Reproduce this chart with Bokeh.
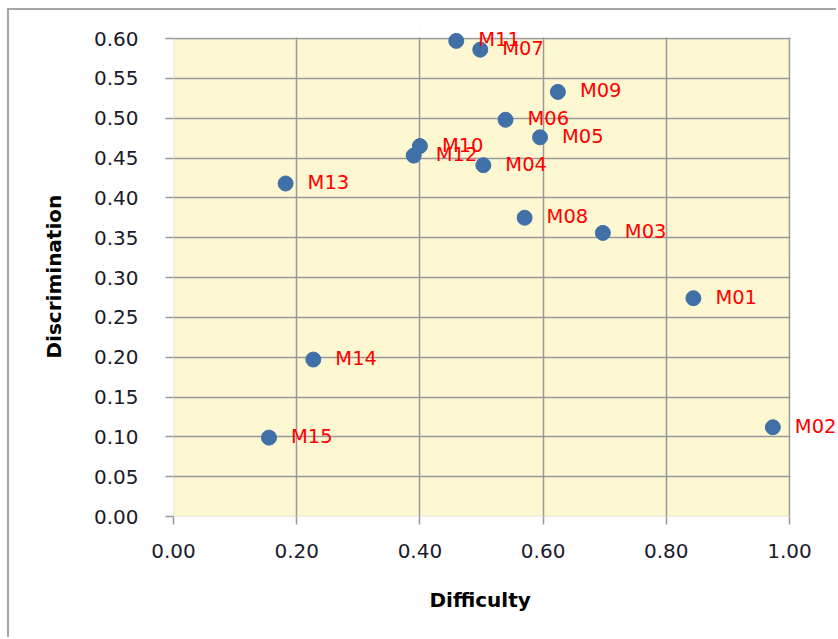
from bokeh.plotting import figure
from bokeh.models import (ColumnDataSource, NumeralTickFormatter, FixedTicker,
                          Range1d, LabelSet, BoxAnnotation, Title)
from bokeh.core.properties import value
from bokeh.embed import file_html
from bokeh.resources import INLINE

items = ["M01", "M02", "M03", "M04", "M05", "M06", "M07", "M08",
         "M09", "M10", "M11", "M12", "M13", "M14", "M15"]
difficulty = [0.844, 0.973, 0.697, 0.503, 0.595, 0.539, 0.498, 0.570,
              0.624, 0.400, 0.459, 0.390, 0.182, 0.227, 0.155]
discrimination = [0.274, 0.112, 0.356, 0.441, 0.476, 0.498, 0.586, 0.375,
                  0.533, 0.465, 0.597, 0.453, 0.418, 0.197, 0.099]
x_ticks = [0.0, 0.2, 0.4, 0.6, 0.8, 1.0]
y_ticks = [0.0, 0.05, 0.10, 0.15, 0.20, 0.25, 0.30, 0.35, 0.40, 0.45, 0.50, 0.55, 0.60]
x_min, x_max = 0.0, 1.0
y_min, y_max = 0.0, 0.6
x_title = "Difficulty"
y_title = "Discrimination"

src = ColumnDataSource(dict(x=difficulty, y=discrimination, label=items))

FONT = "DejaVu Sans"
GRID = "#999999"
FS = "20px"

# the drawing frame is extended above 0.60 and right of 1.00 so that the
# top marker and the outside labels are not clipped; the plot area itself
# is the yellow box from (0, 0) to (1, 0.6)
PLOT_W, FRAME_W = 616, 665
PLOT_H, FRAME_H = 478, 490
x_right = x_max * FRAME_W / PLOT_W
y_top = y_max * FRAME_H / PLOT_H

p = figure(width=829, height=629, output_backend="svg", toolbar_location=None,
           x_range=Range1d(x_min, x_right), y_range=Range1d(y_min, y_top),
           min_border_left=164, min_border_right=0, min_border_top=16,
           min_border_bottom=123)
p.styles = {"margin-left": "7px", "margin-top": "8px",
            "border-left": "2px solid #a6a6a6", "border-top": "2px solid #a6a6a6"}
p.background_fill_color = "#FFFFFF"
p.border_fill_color = "#FFFFFF"
p.outline_line_color = None

plot_bg = BoxAnnotation(left=x_min, right=x_max, bottom=y_min, top=y_max,
                        fill_color="#FEF8D2", fill_alpha=1.0,
                        line_color=GRID, line_width=1.5, level="image")
p.add_layout(plot_bg)

for ax, ticks in ((p.xaxis[0], x_ticks), (p.yaxis[0], y_ticks)):
    ax.ticker = FixedTicker(ticks=ticks)
    ax.formatter = NumeralTickFormatter(format="0.00")
    ax.major_label_text_font = FONT
    ax.major_label_text_font_size = FS
    ax.major_label_text_color = "#1a1a2a"
    ax.axis_line_color = None
    ax.major_tick_line_color = GRID
    ax.major_tick_line_width = 1.5
    ax.major_tick_out = 8
    ax.major_tick_in = 0
    ax.minor_tick_line_color = None

p.xaxis.bounds = (x_min, x_max)
p.yaxis.bounds = (y_min, y_max)
p.xaxis.major_label_standoff = 19
p.yaxis.major_label_standoff = 27

# axis titles centred on the yellow plot area (not on the extended frame)
xt = Title(text=x_title, align="left", offset=256, standoff=50,
           text_font=FONT, text_font_size=FS, text_font_style="bold",
           text_color="#000000")
yt = Title(text=y_title, align="left", offset=158, standoff=50,
           text_font=FONT, text_font_size=FS, text_font_style="bold",
           text_color="#000000")
p.add_layout(xt, "below")
p.add_layout(yt, "left")

p.xgrid.ticker = FixedTicker(ticks=x_ticks)
p.ygrid.ticker = FixedTicker(ticks=y_ticks)
p.grid.grid_line_color = GRID
p.grid.grid_line_width = 1.5

# white covers over the extra strips (hide grid line ends there)
cover_top = BoxAnnotation(left=None, right=None, bottom=y_max + 0.0012, top=None,
                          fill_color="#FFFFFF", fill_alpha=1.0, line_color=None,
                          level="glyph")
cover_right = BoxAnnotation(left=x_max + 0.0015, right=None, bottom=None, top=None,
                            fill_color="#FFFFFF", fill_alpha=1.0, line_color=None,
                            level="glyph")
p.renderers.append(cover_top)
p.renderers.append(cover_right)

p.scatter("x", "y", source=src, size=15, color="#4170A8")

labels = LabelSet(x="x", y="y", text="label", source=src, x_offset=22, y_offset=1,
                  text_font=value(FONT), text_font_size=value("19.5px"),
                  text_color=value("#FF0000"),
                  text_baseline="middle", text_align="left")
p.add_layout(labels)

open("out.html", "w").write(file_html(p, INLINE))
